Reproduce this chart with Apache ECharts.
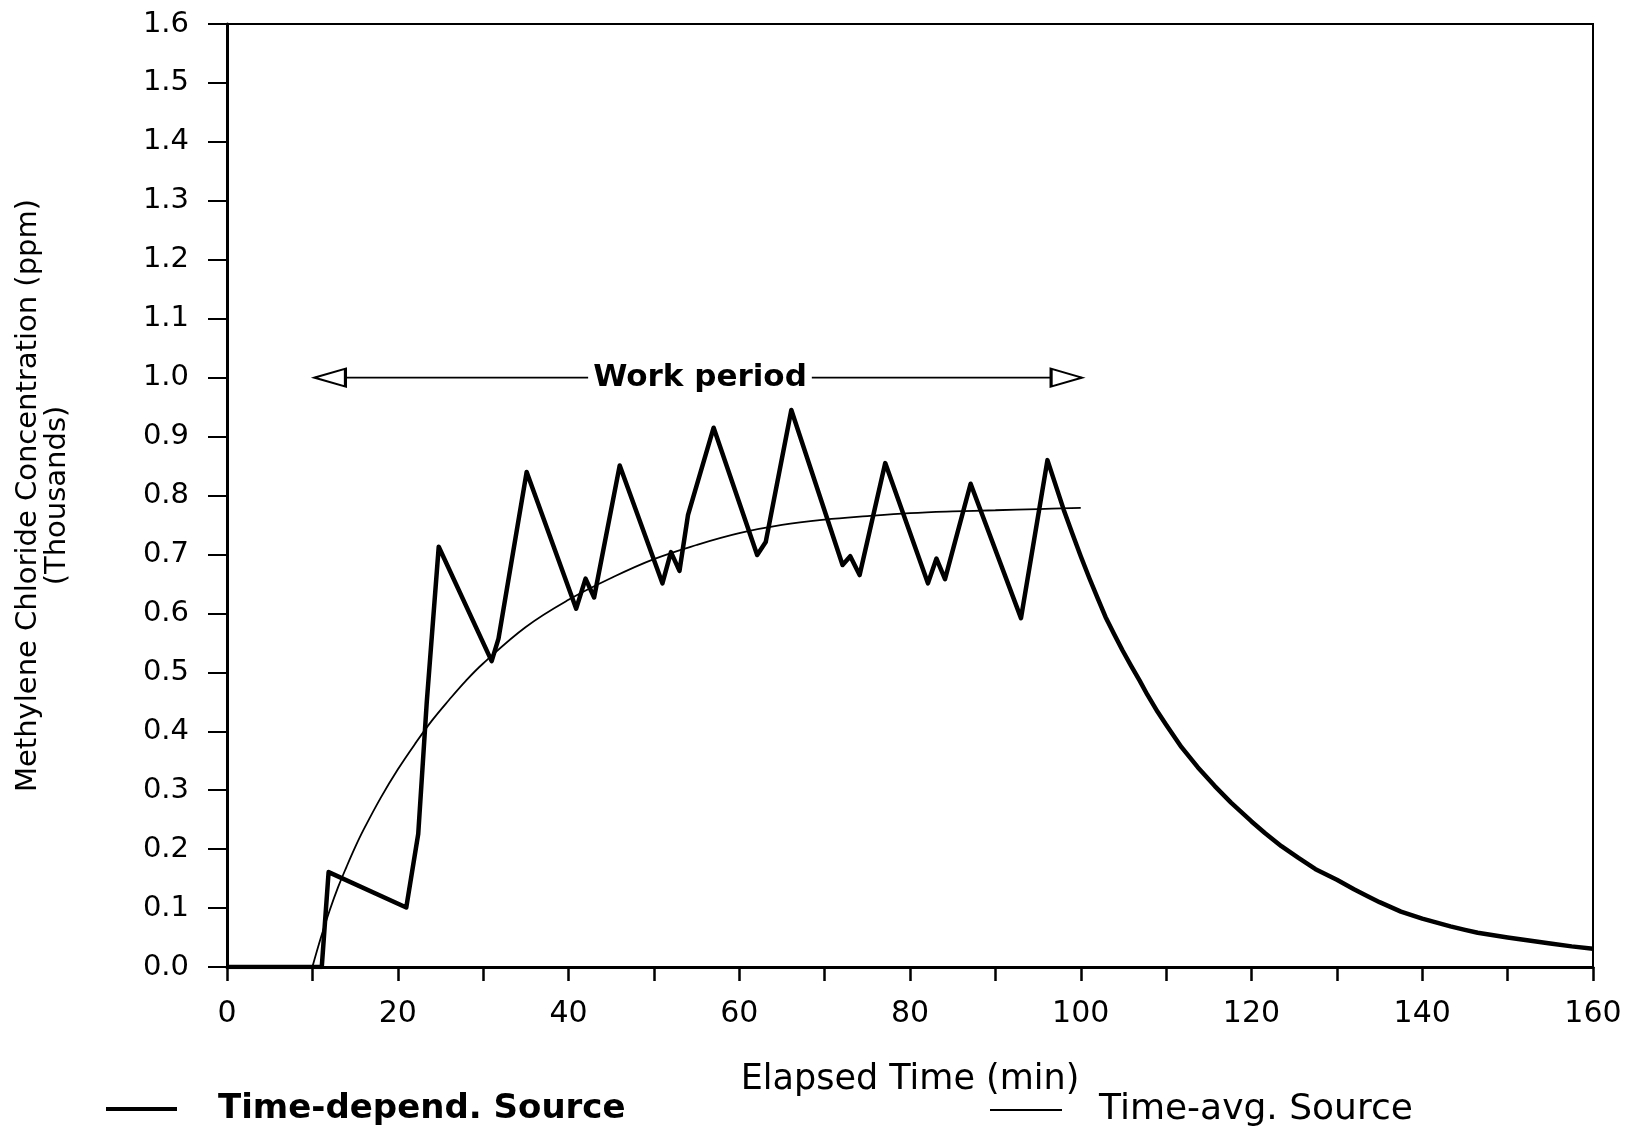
<!DOCTYPE html>
<html>
<head>
<meta charset="utf-8">
<script src="https://cdn.jsdelivr.net/npm/echarts@6/dist/echarts.min.js"></script>
<style>html,body{margin:0;padding:0;background:#fff}#c{width:1638px;height:1128px}</style>
</head>
<body>
<div id="c"></div>
<script>
// Time-dependent source: [elapsed min, concentration (thousands ppm)]
const timeDepend = [
  [0,0],[10,0],[11.1,0],[11.9,0.161],[21.0,0.101],[22.4,0.226],[23.4,0.45],[24.8,0.713],
  [31.0,0.519],[31.8,0.557],[35.1,0.840],[40.9,0.608],[42.0,0.659],[43.0,0.627],
  [46.0,0.851],[51.0,0.651],[52.0,0.704],[53.0,0.672],[54.0,0.767],[57.0,0.915],
  [62.1,0.699],[63.1,0.721],[66.1,0.945],[72.1,0.682],[73.0,0.697],[74.1,0.665],
  [77.1,0.855],[82.1,0.651],[83.1,0.693],[84.1,0.658],[87.1,0.820],[93.0,0.592],
  [96.1,0.860],[98.0,0.776],[99.0,0.736],[100,0.697],[101,0.660],[102,0.625],
  [102.9,0.594],[103.9,0.565],[104.9,0.537],[105.9,0.511],[106.9,0.486],[107.8,0.462],
  [109,0.433],[110,0.411],[111.8,0.373],[113.7,0.339],[115.7,0.307],[117.6,0.279],
  [120,0.247],[121.6,0.227],[123.5,0.205],[125.5,0.185],[127.5,0.166],[130,0.148],
  [132,0.132],[133.6,0.120],[135,0.110],[137.5,0.094],[140,0.082],[143.3,0.069],
  [145,0.063],[146.5,0.058],[150,0.050],[152.5,0.045],[155,0.040],[157.5,0.035],[160,0.031]
];
// Time-averaged source
const timeAvg = [
  [10,0],[11,0.050],[12,0.095],[13,0.135],[14,0.170],[15,0.203],[16,0.233],
  [18,0.287],[20,0.335],[22,0.378],[24,0.418],[26,0.453],[28,0.486],[30,0.515],
  [35,0.577],[40,0.623],[45,0.660],[50,0.692],[55,0.716],[60,0.736],[65,0.750],
  [70,0.759],[75,0.765],[80,0.770],[85,0.773],[90,0.775],[95,0.777],[100,0.779]
];
const workStart = 10.3;
const workEnd = 100.1;
const workLevel = 1.0;
const workLabelX = 55.4;
const workLabel = 'Work period';
const seriesNames = ['Time-depend. Source', 'Time-avg. Source'];
const xTitle = 'Elapsed Time (min)';
const yTitle = 'Methylene Chloride Concentration (ppm)\n(Thousands)';

const FONT = 'DejaVu Sans';
const chart = echarts.init(document.getElementById('c'), null, {renderer: 'canvas'});
chart.setOption({
  backgroundColor: '#fff',
  animation: false,
  grid: {left: 227, right: 45, top: 24, bottom: 161, containLabel: false, outerBoundsMode: 'none',
         show: true, borderColor: '#000', borderWidth: 2, backgroundColor: 'transparent'},
  xAxis: {
    type: 'value', min: 0, max: 160, interval: 10,
    name: xTitle, nameLocation: 'middle', nameGap: 95,
    nameTextStyle: {fontFamily: FONT, fontSize: 35, color: '#000'},
    axisLine: {show: true, onZero: false, lineStyle: {color: '#000', width: 3}},
    axisTick: {show: true, inside: false, length: 14, lineStyle: {color: '#000', width: 2.5}},
    axisLabel: {color: '#000', fontFamily: FONT, fontSize: 30, margin: 32,
                formatter: v => (v % 20 === 0 ? String(v) : '')},
    splitLine: {show: false}
  },
  yAxis: {
    type: 'value', min: 0, max: 1.6, interval: 0.1,
    name: yTitle, nameLocation: 'middle', nameRotate: 90, nameGap: 155,
    nameTextStyle: {fontFamily: FONT, fontSize: 29, color: '#000', lineHeight: 29, align: 'center'},
    axisLine: {show: true, lineStyle: {color: '#000', width: 3}},
    axisTick: {show: true, inside: false, length: 19, lineStyle: {color: '#000', width: 2}},
    axisLabel: {color: '#000', fontFamily: FONT, fontSize: 29, margin: 38,
                formatter: v => v.toFixed(1)},
    splitLine: {show: false}
  },
  legend: [
    {left: 101, top: 1087, icon: 'rect', itemWidth: 71, itemHeight: 4,
     data: [seriesNames[0]],
     textStyle: {fontFamily: FONT, fontSize: 34, fontWeight: 'bold', color: '#000', padding: [0,0,0,36]}},
    {left: 985, top: 1087, icon: 'rect', itemWidth: 72, itemHeight: 2,
     data: [seriesNames[1]],
     textStyle: {fontFamily: FONT, fontSize: 36, color: '#000', padding: [0,0,0,32]}}
  ],
  series: [
    {name: seriesNames[0], type: 'line', data: timeDepend, showSymbol: false, symbol: 'none',
     color: '#000', lineStyle: {color: '#000', width: 4.5, join: 'round'}, z: 3},
    {name: seriesNames[1], type: 'line', data: timeAvg, showSymbol: false, symbol: 'none', smooth: 0.4,
     color: '#000', lineStyle: {color: '#000', width: 1.8}, z: 3},
    {name: 'work', type: 'line', data: [[workStart, workLevel], [workEnd, workLevel]],
     showSymbol: false, symbol: 'none', silent: true,
     lineStyle: {color: '#000', width: 1.6}, z: 4},
    {name: 'workArrows', type: 'scatter', silent: true, z: 5,
     data: [
       {value: [workStart, workLevel], symbolRotate: 90, symbolOffset: [15, 0]},
       {value: [workEnd, workLevel], symbolRotate: -90, symbolOffset: [-15, 0]}
     ],
     symbol: 'triangle', symbolSize: [18, 31],
     itemStyle: {color: '#fff', borderColor: '#000', borderWidth: 2.4, opacity: 1}},
    {name: 'workLabel', type: 'scatter', silent: true, z: 6,
     data: [[workLabelX, workLevel]], symbolSize: 1, itemStyle: {color: '#fff', opacity: 1},
     label: {show: true, position: 'inside', formatter: workLabel, color: '#000', opacity: 1,
             fontFamily: FONT, fontSize: 31, fontWeight: 'bold',
             backgroundColor: '#fff', padding: [2, 5]}}
  ]
});
</script>
</body>
</html>
